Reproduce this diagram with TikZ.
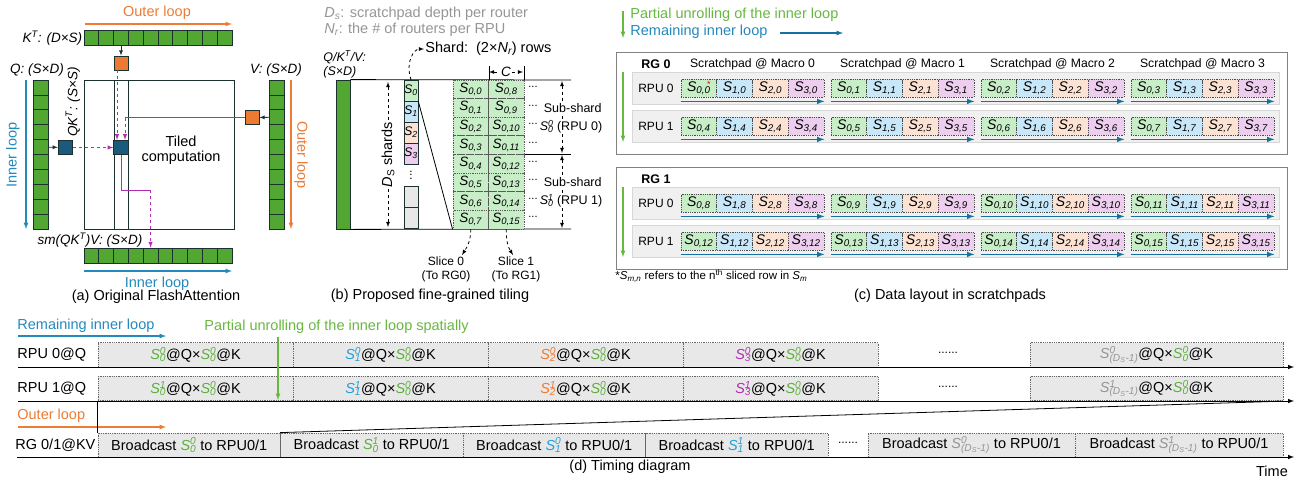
\documentclass[tikz,border=0pt]{standalone}
\usepackage{fontspec}
\setmainfont{Liberation Sans}
\definecolor{cellgreen}{RGB}{82,166,50}
\definecolor{celledge}{RGB}{28,48,48}
\definecolor{tileblue}{RGB}{26,90,124}
\definecolor{tileorange}{RGB}{236,122,48}
\definecolor{loopblue}{RGB}{36,138,190}
\definecolor{looporange}{RGB}{238,124,52}
\definecolor{flowmag}{RGB}{176,46,178}
\definecolor{unrollgreen}{RGB}{104,184,64}
\definecolor{arrowblue}{RGB}{22,112,160}
\definecolor{sgreen}{RGB}{200,238,200}
\definecolor{sblue}{RGB}{200,232,250}
\definecolor{sorange}{RGB}{252,226,210}
\definecolor{spink}{RGB}{238,206,238}
\definecolor{rowgray}{RGB}{240,240,240}
\definecolor{rowedge}{RGB}{215,215,215}
\definecolor{boxgray}{RGB}{232,232,232}
\definecolor{notegray}{RGB}{150,150,150}
\definecolor{rgedge}{RGB}{130,130,130}
\definecolor{textgreen}{RGB}{92,176,58}
\definecolor{textblue}{RGB}{32,160,220}
\definecolor{textorange}{RGB}{238,124,52}
\definecolor{textpurple}{RGB}{178,48,180}
\newcommand{\fsz}[1]{\fontsize{#1}{#1}\selectfont}
\newcommand{\Sv}[1]{\textit{S}\textsubscript{\textit{#1}}}
\newcommand{\Svv}[2]{\textit{S}\rlap{\textsuperscript{\textit{#2}}}\textsubscript{\textit{#1}}}

\begin{document}
\begin{tikzpicture}[>=latex, x=1pt, y=-1pt, line width=0.8pt,
    every node/.style={inner sep=1pt, font=\fsz{14.5}},
    gcell/.style={draw=celledge, fill=cellgreen, minimum width=14.8pt, minimum height=14.9pt, inner sep=0pt},
    osq/.style={draw=celledge, fill=tileorange, minimum size=14pt, inner sep=0pt},
    bsq/.style={draw=celledge, fill=tileblue, minimum size=14.5pt, inner sep=0pt},
    itlbl/.style={font=\fsz{13.5}\itshape},
    itsmall/.style={font=\fsz{12.5}\itshape},
    flowline/.style={flowmag, line width=1pt},
    looparrow/.style={->, line width=1.2pt},
    shcell/.style={draw=celledge, line width=0.6pt, minimum width=14pt, minimum height=21pt, inner sep=0pt, font=\fsz{12.5}},
    tcell/.style={draw=black!65, densely dotted, fill=sgreen, minimum width=35.5pt, minimum height=18.625pt, inner sep=0pt, font=\fsz{13.5}},
    ccell/.style={draw=black!70, densely dotted, minimum width=35.75pt, minimum height=18pt, inner sep=0pt, font=\fsz{14}},
    subl/.style={fill=white, inner sep=0.5pt, font=\fsz{12.5}},
    rowbg/.style={draw=rowedge, fill=rowgray},
    rgbox/.style={draw=rgedge, line width=1pt},
    tbox/.style={draw=black!60, densely dotted, fill=boxgray, minimum height=24.5pt, inner sep=0pt}]

    \fill[white] (0,0) rectangle (1296,480);
    \useasboundingbox (0,0) rectangle (1296,480);

    % (a) original FlashAttention
    \node[looporange] (outertop) at (157,13) {Outer loop};
    \draw[looparrow, looporange] (85,24) -- (232,24);
    \foreach \i in {0,...,9} {
        \node[gcell] (k\i) at ({91.4+14.8*\i},38) {};
        \node[gcell] (q\i) at (40.5,{87.45+14.9*\i}) {};
        \node[gcell] (v\i) at (277,{87.45+14.9*\i}) {};
        \node[gcell] (o\i) at ({91.4+14.8*\i},255.5) {};
    }
    \node[itlbl, anchor=east] (klbl) at (k0.west) {K\textsuperscript{T}: (D×S)};
    \node[itlbl] (qlbl) at (37,70) {Q: (S×D)};
    \node[itlbl] (vlbl) at (276,70) {V: (S×D)};
    \node[itlbl] (olbl) at (90,240) {sm(QK\textsuperscript{T})V: (S×D)};
    \node[itlbl, rotate=90] (qklbl) at (73,102) {QK\textsuperscript{T}: (S×S)};
    \node[draw=celledge, minimum width=150pt, minimum height=149pt, inner sep=0pt] (tilebox) at (159,154.5) {};
    \draw[celledge] (114,80) -- (114,229) (128,80) -- (128,229);
    \node[align=center] (tiled) at (181,150) {Tiled\\computation};
    \node[osq] (ko) at (121,63) {};
    \node[osq] (vo) at (252,117.5) {};
    \node[bsq] (qb) at (65.5,147.5) {};
    \node[bsq] (tile) at (121,147.5) {};
    \draw[->, celledge] (k2) -- (ko);
    \draw[->, celledge] (q4) -- (qb);
    \draw[->, celledge] (v2) -- (vo);
    \draw[flowline, dashed, ->] (qb) -- (tile);
    \draw[flowline, dashed, ->] ([xshift=-4pt]ko.south) -- ([xshift=-4pt]tile.north);
    \coordinate (tileR) at ([xshift=4pt]tile.north);
    \coordinate (vturn) at (tileR |- vo.west);
    \draw[flowline] (vo.west) -- (vturn);
    \draw[flowline, dashed, ->] (vturn) -- (tileR);
    \coordinate (oturn) at (o4.north |- 0,190);
    \draw[flowline] (tile.south) |- (oturn);
    \draw[flowline, dashed, ->] (oturn) -- (o4.north);
    \draw[looparrow, loopblue] (26,80) -- (26,229);
    \node[loopblue, rotate=90] (innerleft) at (13,155) {Inner loop};
    \draw[looparrow, looporange] (291,80) -- (291,229);
    \node[looporange, rotate=-90] (outerright) at (301,155) {Outer loop};
    \draw[looparrow, loopblue] (84,271) -- (232,271);
    \node[loopblue] (innerbot) at (157,284) {Inner loop};
    \node (capa) at (156,297) {(a) Original FlashAttention};

    % (b) fine-grained tiling
    \node[notegray, anchor=west] (dsnote) at (323,14) {\textit{D\textsubscript{s}}: scratchpad depth per router};
    \node[notegray, anchor=west] (nrnote) at (323,30) {\textit{N\textsubscript{r}}: the \# of routers per RPU};
    \node[itsmall, anchor=west] (qkvlbl) at (322,57) {Q/K\textsuperscript{T}/V:};
    \node[itsmall, anchor=west] (qkvdim) at (322,72) {(S×D)};
    \node[draw=celledge, fill=cellgreen, minimum width=14pt, minimum height=149pt, inner sep=0pt] (qkvbar) at (343,154.5) {};
    \draw (qkvbar.north east) -- (571,80);
    \draw (qkvbar.south east) -- (571,229);
    \draw (524,154) -- (571,154);
    \draw[<->, dashed] (388,82) -- (388,227) node[midway, rotate=90, fill=white, inner sep=2pt] (dslbl) {\textit{D}\textsubscript{S} shards};
    \foreach \j/\cc in {0/sgreen,1/sblue,2/sorange,3/spink}
        \node[shcell, fill=\cc] (sh\j) at (411,{90.5+21*\j}) {\Sv{\j}};
    \node[rotate=90, font=\fsz{12}] (shdots) at (411,175) {...};
    \node[shcell, fill=boxgray] (shy) at (411,196.5) {};
    \node[shcell, fill=boxgray] (shz) at (411,217.5) {};
    \node[anchor=west] (shardlbl) at (424,49) {Shard:\ \ (2×\textit{N\textsubscript{r}}) rows};
    \draw[->, dashed] (sh0.north) .. controls +(-6,-18) and +(-10,0) .. (shardlbl.west);
    \foreach \r in {0,...,7} {
        \pgfmathtruncatemacro\rr{\r+8}
        \node[tcell] (ta\r) at (470.75,{89.31+18.625*\r}) {\Sv{0,\r}};
        \node[tcell] (tb\r) at (506.25,{89.31+18.625*\r}) {\Sv{0,\rr}};
        \node[font=\fsz{11}] (el\r) at (533,{87+18.625*\r}) {...};
    }
    \draw (sh0.south east) -- (ta7.south west);
    \draw (ta0.north east) -- ++(0,-14) (tb0.north east) -- ++(0,-14);
    \draw[<->, dashed] (489,72) -- (523,72) node[midway, fill=white, inner sep=1pt, font=\fsz{13.5}\itshape] (clbl) {C};
    \draw[<->, dashed] (562,81) -- (562,153);
    \draw[<->, dashed] (562,155) -- (562,228);
    \node[subl, anchor=west] (sub0a) at (543,108) {Sub-shard};
    \node[subl, anchor=west] (sub0b) at (539,126.6) {\Svv{0}{0} (RPU 0)};
    \node[subl, anchor=west] (sub1a) at (543,182.4) {Sub-shard};
    \node[subl, anchor=west] (sub1b) at (539,201) {\Svv{0}{1} (RPU 1)};
    \node[align=center, font=\fontsize{12}{14}\selectfont] (slice0) at (446,269) {Slice 0\\(To RG0)};
    \node[align=center, font=\fontsize{12}{14}\selectfont] (slice1) at (516,269) {Slice 1\\(To RG1)};
    \draw[->, dashed] (ta7.south) .. controls +(0,12) and +(5,-8) .. ([xshift=16pt]slice0.north);
    \draw[->, dashed] (tb7.south) .. controls +(0,12) and +(-5,-8) .. ([xshift=-3pt]slice1.north);
    \node (capb) at (430,296) {(b) Proposed fine-grained tiling};

    % (c) data layout in scratchpads
    \draw[looparrow, unrollgreen] (623,11) -- (623,38);
    \node[unrollgreen, anchor=west] (unrolllbl) at (629,15) {Partial unrolling of the inner loop};
    \node[loopblue, anchor=west] (remlbl) at (629,32) {Remaining inner loop};
    \draw[looparrow, arrowblue] (780,33) -- (843,33);
    \foreach \k in {0,...,3}
        \node[font=\fsz{12.2}] (mac\k) at ({752.5+150*\k},64) {Scratchpad @ Macro \k};
    \foreach \g/\T in {0/52,1/167} {
        \draw[rgbox] (616,\T) rectangle (1287,\T+102);
        \node[font=\bfseries\fsz{12.5}] (rglbl\g) at (656,\T+12) {RG \g};
        \draw[looparrow, unrollgreen] (623,\T+20) -- (623,\T+90);
        \foreach \p in {0,1} {
            \draw[rowbg] (632,{\T+20+38*\p}) rectangle (1279,{\T+52+38*\p});
            \node[font=\fsz{12}] (rpu\g\p) at (656,{\T+36+38*\p}) {RPU \p};
            \foreach \k in {0,...,3} {
                \pgfmathtruncatemacro\nn{8*\g+4*\p+\k}
                \foreach \m/\cc in {0/sgreen,1/sblue,2/sorange,3/spink}
                    \node[ccell, fill=\cc] (c\g\p\k\m) at ({698.875+150*\k+35.75*\m},{\T+36+38*\p}) {\Sv{\m,\nn}};
                \draw[->, arrowblue, line width=1.5pt] ([yshift=-4pt]c\g\p\k0.south west) -- ([yshift=-4pt]c\g\p\k3.south east);
            }
        }
    }
    \node[red, font=\fsz{9}] (star) at ([xshift=10pt,yshift=4pt]c0000.center) {*};
    \node[font=\fsz{11.5}, anchor=west] (footnote) at (614,276) {*\Sv{m,n} refers to the n\textsuperscript{th} sliced row in \Sv{m}};
    \node (capc) at (950,296) {(c) Data layout in scratchpads};

    % (d) timing diagram
    \node[loopblue, anchor=west] (remd) at (16,326) {Remaining inner loop};
    \draw[looparrow, loopblue] (18,336) -- (166,336);
    \node[unrollgreen, anchor=west] (unrolld) at (203,327) {Partial unrolling of the inner loop spatially};
    \node[anchor=west] (rpu0q) at (16,355) {RPU 0@Q};
    \node[anchor=west] (rpu1q) at (16,388.5) {RPU 1@Q};
    \node[looporange, anchor=west] (outerd) at (16,416) {Outer loop};
    \draw[looparrow, looporange] (18,427) -- (166,427);
    \node[anchor=west] (rgkv) at (14,445) {RG 0/1@KV};
    \foreach \i/\cc in {0/textgreen,1/textblue,2/textorange,3/textpurple} {
        \node[tbox, minimum width=195pt] (ra\i) at ({195.5+195*\i},355) {\textcolor{\cc}{\Svv{\i}{0}}@Q×\textcolor{textgreen}{\Svv{0}{0}}@K};
        \node[tbox, minimum width=195pt] (rb\i) at ({195.5+195*\i},388.5) {\textcolor{\cc}{\Svv{\i}{1}}@Q×\textcolor{textgreen}{\Svv{0}{0}}@K};
    }
    \node[font=\fsz{12}] (radots) at (948,353) {......};
    \node[font=\fsz{12}] (rbdots) at (948,387) {......};
    \node[tbox, minimum width=253pt] (ralast) at (1156.5,355) {\textcolor{notegray}{\Svv{(D\textsubscript{S}-1)}{0}}@Q×\textcolor{textgreen}{\Svv{0}{0}}@K};
    \node[tbox, minimum width=253pt] (rblast) at (1156.5,388.5) {\textcolor{notegray}{\Svv{(D\textsubscript{S}-1)}{1}}@Q×\textcolor{textgreen}{\Svv{0}{0}}@K};
    \foreach \i/\m/\s/\cc in {0/0/0/textgreen,1/0/1/textgreen,2/1/0/textblue,3/1/1/textblue}
        \node[tbox, minimum width=182.5pt, minimum height=24pt] (kv\i) at ({189.25+182.5*\i},445) {Broadcast \textcolor{\cc}{\Svv{\m}{\s}} to RPU0/1};
    \node[font=\fsz{12}] (kvdots) at (848,443) {......};
    \node[tbox, minimum width=207pt, minimum height=24pt] (kv4) at (971.5,445) {Broadcast \textcolor{notegray}{\Svv{(D\textsubscript{S}-1)}{0}} to RPU0/1};
    \node[tbox, minimum width=208pt, minimum height=24pt] (kv5) at (1179,445) {Broadcast \textcolor{notegray}{\Svv{(D\textsubscript{S}-1)}{1}} to RPU0/1};
    \draw[->, line width=1pt] (18,367) -- (1294,367);
    \draw[->, line width=1pt] (18,401) -- (1294,401);
    \draw[->, line width=1pt] (17,457) -- (1294,457);
    \draw (rb0.south west) -- (kv0.north west);
    \draw (kv1.north west) -- (rblast.south east);
    \draw[looparrow, unrollgreen] (278,337) -- (278,400);
    \node (time) at (1272,471) {Time};
    \node (capd) at (630,467) {(d) Timing diagram};

\end{tikzpicture}
\end{document}
